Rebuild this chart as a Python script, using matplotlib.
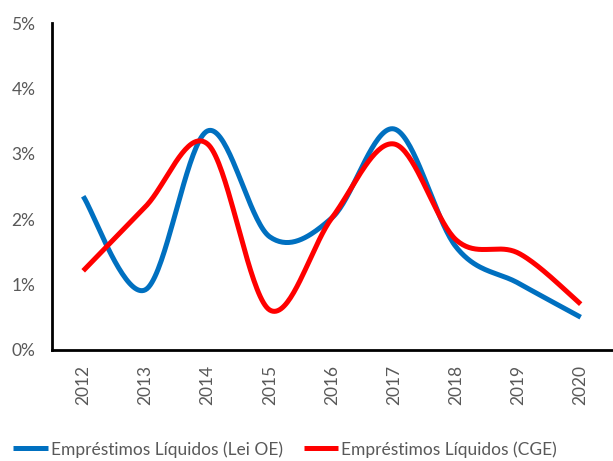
import numpy as np
import matplotlib
matplotlib.use("Agg")
import matplotlib.pyplot as plt
from matplotlib.ticker import FuncFormatter

years = ["2012", "2013", "2014", "2015", "2016", "2017", "2018", "2019", "2020"]
lei_oe = [2.35, 0.92, 3.35, 1.73, 2.02, 3.38, 1.57, 1.02, 0.50]
cge = [1.21, 2.19, 3.15, 0.61, 2.02, 3.15, 1.68, 1.48, 0.70]

plt.rcParams["font.family"] = ["Lato", "DejaVu Sans"]


def smooth(xs, ys, n=40):
    """Catmull-Rom style Bezier smoothing through every point."""
    xs = np.asarray(xs, float)
    ys = np.asarray(ys, float)
    px = np.concatenate([[xs[0]], xs, [xs[-1]]])
    py = np.concatenate([[ys[0]], ys, [ys[-1]]])
    outx, outy = [], []
    t = np.linspace(0, 1, n)
    for i in range(1, len(px) - 2):
        p0 = np.array([px[i - 1], py[i - 1]])
        p1 = np.array([px[i], py[i]])
        p2 = np.array([px[i + 1], py[i + 1]])
        p3 = np.array([px[i + 2], py[i + 2]])
        c1 = p1 + (p2 - p0) / 6
        c2 = p2 - (p3 - p1) / 6
        b = ((1 - t) ** 3)[:, None] * p1 + (3 * (1 - t) ** 2 * t)[:, None] * c1 \
            + (3 * (1 - t) * t ** 2)[:, None] * c2 + (t ** 3)[:, None] * p2
        outx.extend(b[:, 0])
        outy.extend(b[:, 1])
    return np.array(outx), np.array(outy)


fig = plt.figure(figsize=(6.13, 4.61), dpi=100)
ax = fig.add_axes([0.085, 0.241, 0.913, 0.709])

x = np.arange(len(years))
bx, by = smooth(x, lei_oe)
rx, ry = smooth(x, cge)
ax.plot(bx, by, color="#0070C0", lw=3.6, solid_capstyle="butt",
        label="Empréstimos Líquidos (Lei OE)")
ax.plot(rx, ry, color="#FF0000", lw=3.6, solid_capstyle="butt",
        label="Empréstimos Líquidos (CGE)")

ax.set_xlim(-0.5, len(years) - 0.5)
ax.set_ylim(0, 5)
ax.set_xticks(x)
ax.set_xticklabels(years, rotation=90)
ax.set_yticks(np.arange(0, 6, 1))
ax.yaxis.set_major_formatter(FuncFormatter(lambda v, p: f"{v:.0f}%"))
ax.tick_params(axis="both", length=0, labelsize=12.5, labelcolor="#595959")
ax.tick_params(axis="x", pad=11)
ax.tick_params(axis="y", pad=12)

for s in ["top", "right"]:
    ax.spines[s].set_visible(False)
for s in ["left", "bottom"]:
    ax.spines[s].set_linewidth(2)
    ax.spines[s].set_color("black")

leg = fig.legend(loc="lower left", bbox_to_anchor=(10 / 613, 0.0), ncol=2,
                 frameon=False, fontsize=12.5, handlelength=2.0, columnspacing=1.2,
                 handletextpad=0.15, borderpad=0.2, borderaxespad=0)
for t in leg.get_texts():
    t.set_color("#595959")

fig.savefig("out.png", dpi=100)
